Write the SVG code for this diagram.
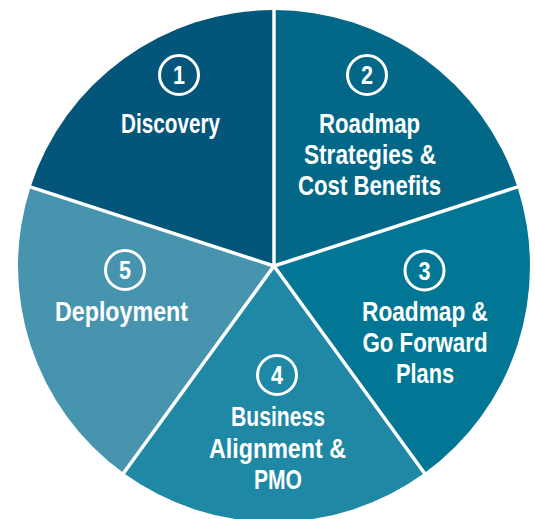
<svg xmlns="http://www.w3.org/2000/svg" width="535" height="519" viewBox="0 0 535 519">
<style>
.lbl{font-family:"Liberation Sans",Arial,sans-serif;font-weight:bold;font-size:28px;fill:#fff;text-anchor:middle}
.num{font-family:"Liberation Sans",Arial,sans-serif;font-weight:bold;font-size:25px;fill:#fff;text-anchor:middle}
.ring{fill:none;stroke:#fff;stroke-width:3}
.sep{stroke:#fff;stroke-width:3.5;stroke-linecap:butt}
</style>
<rect width="535" height="519" fill="#fff"/>
<g id="node1">
<path d="M274,266 L30.53,186.89 A256,256 0 0 1 274,10 Z" fill="#04557A"/>
<circle class="ring" cx="179" cy="75" r="19.5"/>
<text class="num" x="179" y="84" textLength="12" lengthAdjust="spacingAndGlyphs">1</text>
<text class="lbl" x="170.5" y="133" textLength="99" lengthAdjust="spacingAndGlyphs">Discovery</text>
</g>
<g id="node2">
<path d="M274,266 L274,10 A256,256 0 0 1 517.47,186.89 Z" fill="#036887"/>
<circle class="ring" cx="367" cy="75" r="19.5"/>
<text class="num" x="367" y="84" textLength="12" lengthAdjust="spacingAndGlyphs">2</text>
<text class="lbl" x="369.5" y="133" textLength="101" lengthAdjust="spacingAndGlyphs">Roadmap</text>
<text class="lbl" x="370" y="164" textLength="132" lengthAdjust="spacingAndGlyphs">Strategies &amp;</text>
<text class="lbl" x="369.5" y="195" textLength="143" lengthAdjust="spacingAndGlyphs">Cost Benefits</text>
</g>
<g id="node3">
<path d="M274,266 L517.47,186.89 A256,256 0 0 1 424.47,473.11 Z" fill="#027795"/>
<circle class="ring" cx="424.5" cy="270.5" r="19.5"/>
<text class="num" x="424.5" y="279.5" textLength="12" lengthAdjust="spacingAndGlyphs">3</text>
<text class="lbl" x="425" y="321" textLength="126" lengthAdjust="spacingAndGlyphs">Roadmap &amp;</text>
<text class="lbl" x="425" y="352" textLength="125" lengthAdjust="spacingAndGlyphs">Go Forward</text>
<text class="lbl" x="425" y="383" textLength="58" lengthAdjust="spacingAndGlyphs">Plans</text>
</g>
<g id="node4">
<path d="M274,266 L424.47,473.11 A256,256 0 0 1 123.53,473.11 Z" fill="#1E88A5"/>
<circle class="ring" cx="277" cy="375" r="19.5"/>
<text class="num" x="277" y="384" textLength="12" lengthAdjust="spacingAndGlyphs">4</text>
<text class="lbl" x="278" y="426" textLength="94" lengthAdjust="spacingAndGlyphs">Business</text>
<text class="lbl" x="277.5" y="458" textLength="137" lengthAdjust="spacingAndGlyphs">Alignment &amp;</text>
<text class="lbl" x="278" y="489" textLength="48" lengthAdjust="spacingAndGlyphs">PMO</text>
</g>
<g id="node5">
<path d="M274,266 L123.53,473.11 A256,256 0 0 1 30.53,186.89 Z" fill="#4794AE"/>
<circle class="ring" cx="125" cy="270" r="19.5"/>
<text class="num" x="125" y="279" textLength="12" lengthAdjust="spacingAndGlyphs">5</text>
<text class="lbl" x="121.5" y="321" textLength="133" lengthAdjust="spacingAndGlyphs">Deployment</text>
</g>
<g id="connectors">
<line class="sep" x1="274" y1="266" x2="274" y2="8"/>
<line class="sep" x1="274" y1="266" x2="519.4" y2="186.3"/>
<line class="sep" x1="274" y1="266" x2="425.6" y2="474.7"/>
<line class="sep" x1="274" y1="266" x2="122.4" y2="474.7"/>
<line class="sep" x1="274" y1="266" x2="28.6" y2="186.3"/>
</g>
</svg>
